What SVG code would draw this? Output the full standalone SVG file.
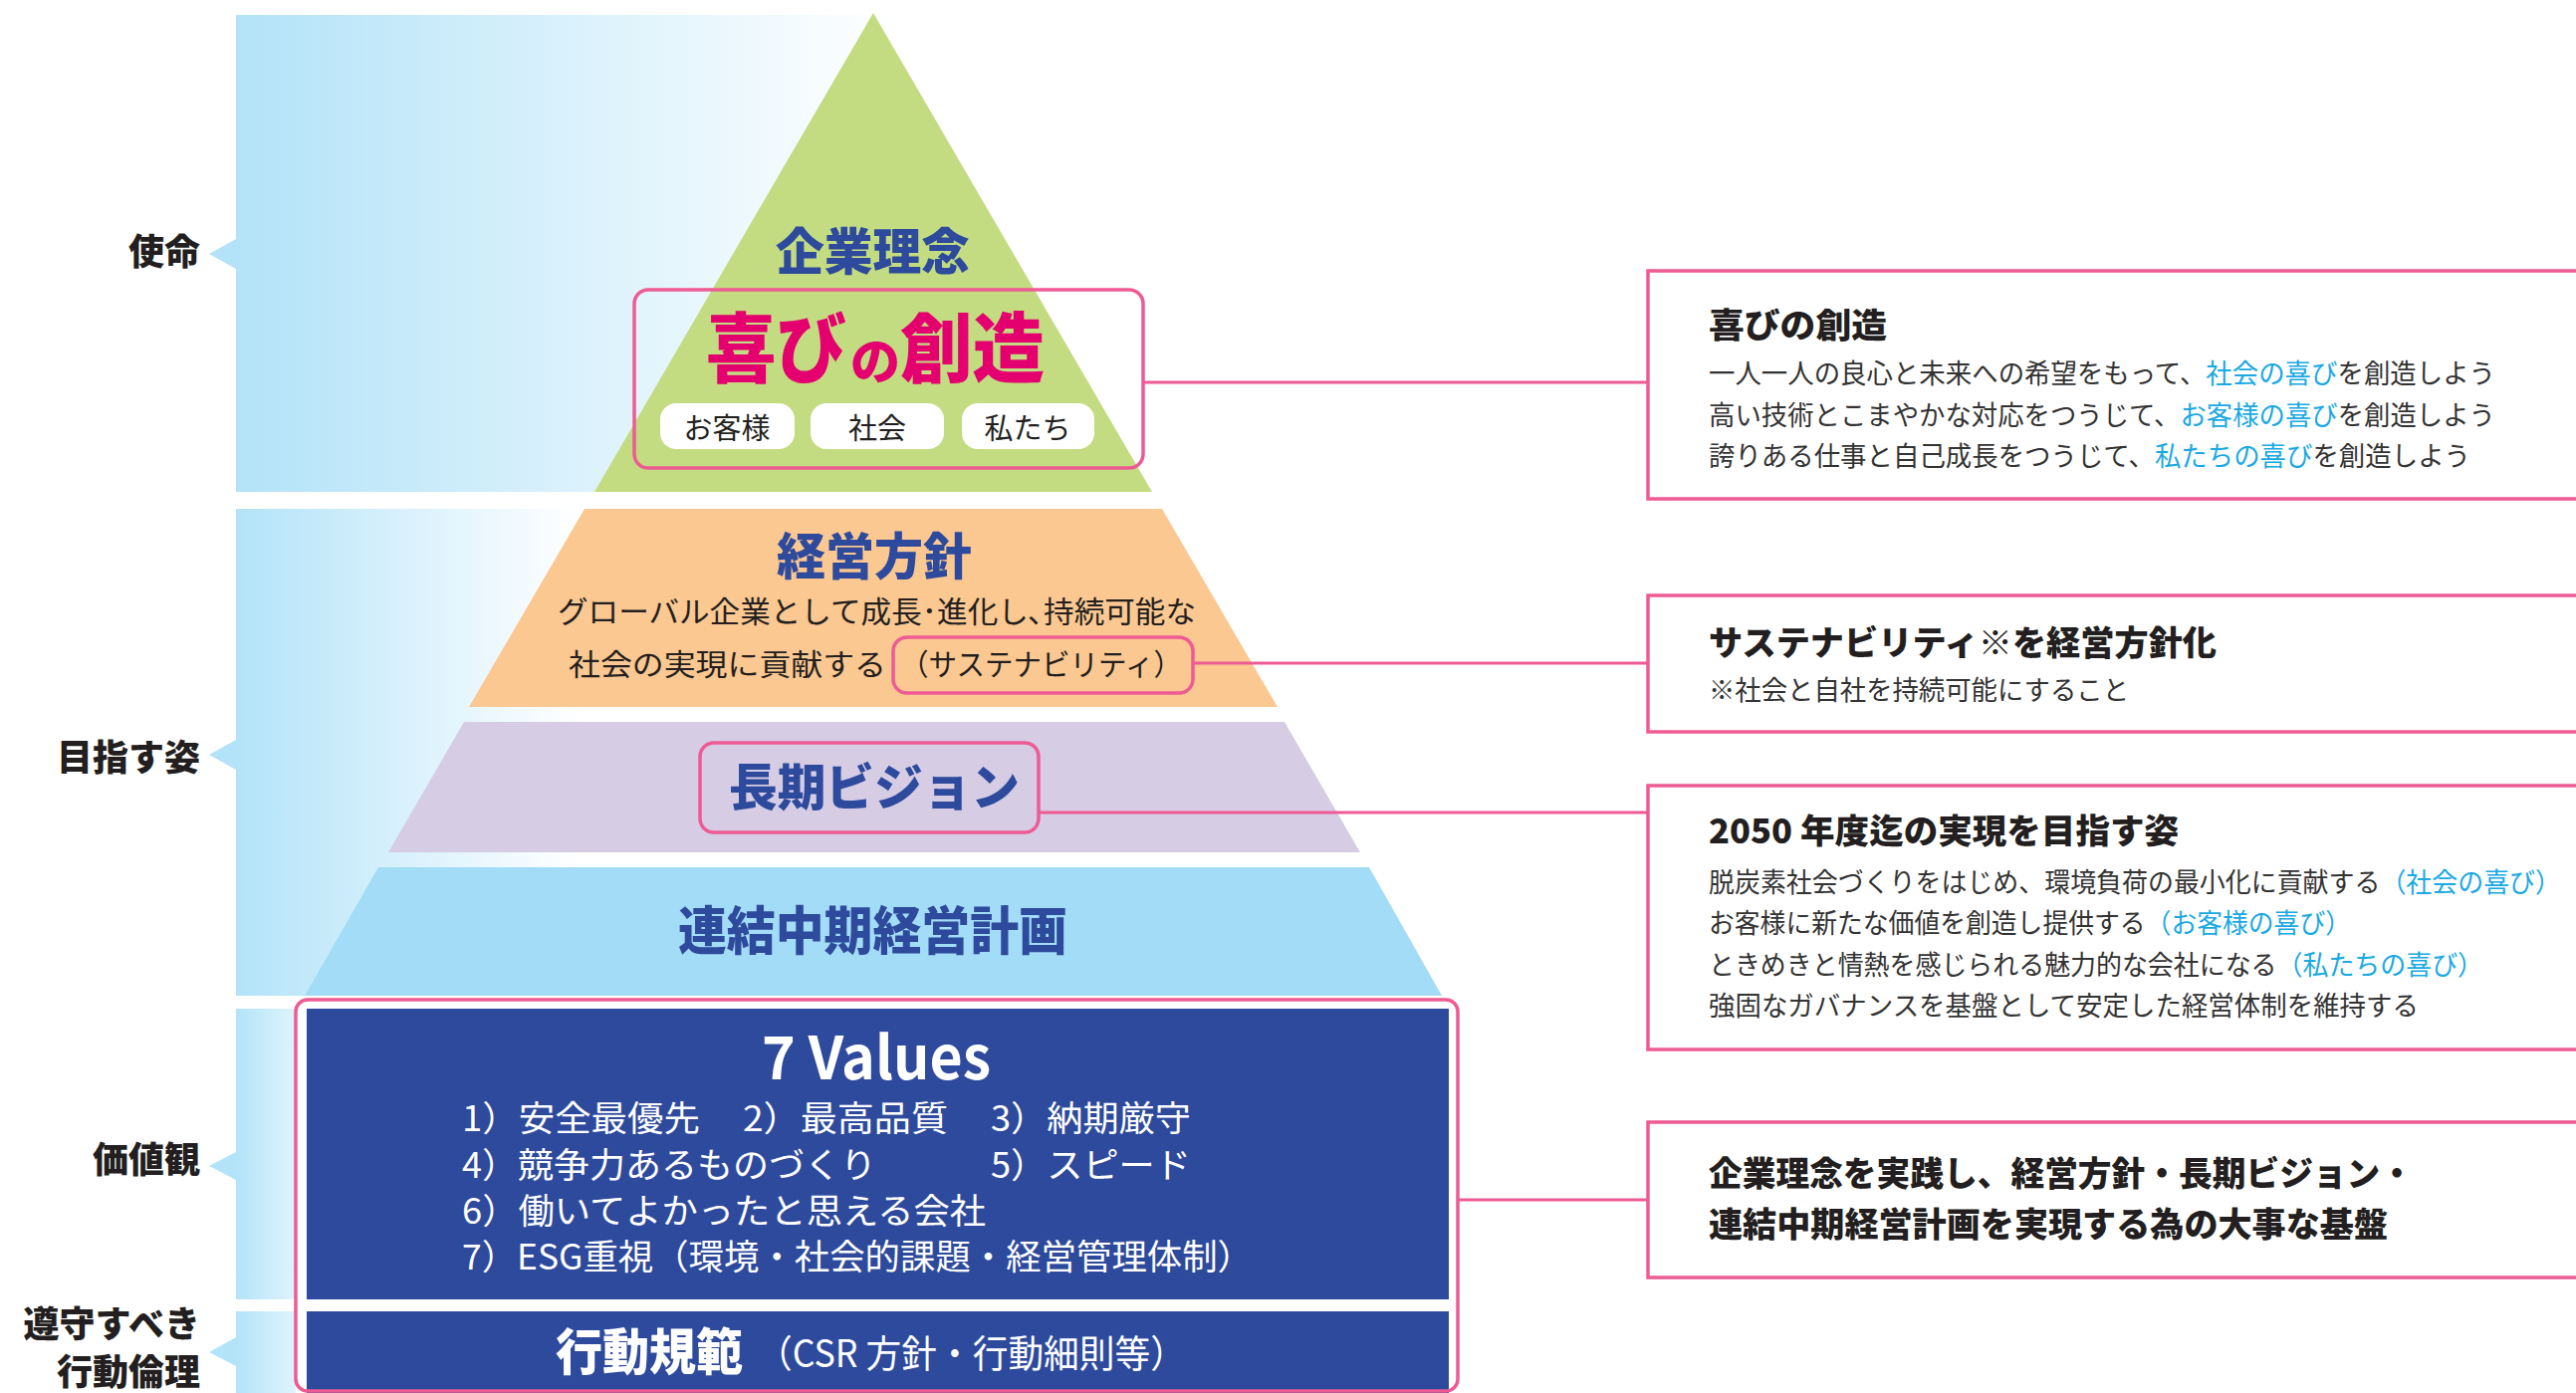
<svg xmlns="http://www.w3.org/2000/svg" width="2587" height="1399" viewBox="0 0 2587 1399">
<style>
text{font-family:"Noto Sans CJK JP","Noto Sans",sans-serif;dominant-baseline:central}
.lbl{font-size:36px;font-weight:900;fill:#231f20;text-anchor:end}
.navy{fill:#2e4a9c;font-weight:900}
.pk{fill:none;stroke:#ee5b94;stroke-width:3.5}
.con line{stroke:#ee5b94;stroke-width:3}
.body{font-size:27px;fill:#333}
.ttl{font-size:34px;font-weight:900;fill:#231f20}
.cy{fill:#1aa9e2}
.wt{fill:#fff;font-size:35px}
.notch{fill:#b3e3f8}
</style>
<defs>
<linearGradient id="g1" gradientUnits="userSpaceOnUse" x1="237" y1="0" x2="900" y2="0"><stop offset="0" stop-color="#b3e3f8"/><stop offset="1" stop-color="#ffffff"/></linearGradient>
<linearGradient id="g2" gradientUnits="userSpaceOnUse" x1="237" y1="0" x2="580" y2="0"><stop offset="0" stop-color="#b3e3f8"/><stop offset="1" stop-color="#ffffff"/></linearGradient>
<linearGradient id="g3" gradientUnits="userSpaceOnUse" x1="237" y1="0" x2="325" y2="0"><stop offset="0" stop-color="#b3e3f8"/><stop offset="1" stop-color="#f4fbfe"/></linearGradient>
</defs>

<g id="bands">
<rect x="237" y="15" width="663" height="479" fill="url(#g1)"/>
<rect x="237" y="511" width="360" height="489" fill="url(#g2)"/>
<rect x="237" y="1013" width="60" height="292" fill="url(#g3)"/>
<rect x="237" y="1317" width="60" height="82" fill="url(#g3)"/>
<polygon class="notch" points="210,255 237,240 237,270"/>
<polygon class="notch" points="210,758 237,743 237,773"/>
<polygon class="notch" points="210,1171 237,1157 237,1185"/>
<polygon class="notch" points="210,1358 237,1343 237,1372"/>
</g>

<g id="labels">
<text class="lbl" x="201" y="250">使命</text>
<text class="lbl" x="201" y="758">目指す姿</text>
<text class="lbl" x="201" y="1162">価値観</text>
<text class="lbl" x="201" y="1327">遵守すべき</text>
<text class="lbl" x="201" y="1375">行動倫理</text>
</g>

<g id="node-philosophy">
<polygon points="877,13 1157,494 597,494" fill="#c3dc82"/>
<text class="navy" x="779" y="249" font-size="50" textLength="195" lengthAdjust="spacingAndGlyphs">企業理念</text>
<rect class="pk" x="637" y="291" width="511" height="179" rx="14"/>
<text x="709" y="345" font-size="76" font-weight="900" fill="#e4006e" textLength="141" lengthAdjust="spacingAndGlyphs">喜び</text>
<text x="854" y="359" font-size="50" font-weight="900" fill="#e4006e" textLength="50" lengthAdjust="spacingAndGlyphs">の</text>
<text x="904" y="345" font-size="76" font-weight="900" fill="#e4006e" textLength="145" lengthAdjust="spacingAndGlyphs">創造</text>
<rect x="663" y="405" width="135" height="46" rx="16" fill="#fff"/>
<rect x="814" y="405" width="134" height="46" rx="16" fill="#fff"/>
<rect x="966" y="405" width="133" height="46" rx="16" fill="#fff"/>
<text x="730" y="428" font-size="29" fill="#231f20" text-anchor="middle">お客様</text>
<text x="881" y="428" font-size="29" fill="#231f20" text-anchor="middle">社会</text>
<text x="1032" y="428" font-size="29" fill="#231f20" text-anchor="middle">私たち</text>
</g>

<g id="node-policy">
<polygon points="587,511 1167,511 1283,710 471,710" fill="#fcc891"/>
<text class="navy" x="780" y="555" font-size="50" textLength="196" lengthAdjust="spacingAndGlyphs">経営方針</text>
<text x="560" y="612" font-size="30" fill="#231f20" textLength="641" lengthAdjust="spacingAndGlyphs">グローバル企業として成長･進化し､持続可能な</text>
<text x="571" y="665" font-size="30" fill="#231f20" textLength="319" lengthAdjust="spacingAndGlyphs">社会の実現に貢献する</text>
<text x="904" y="665" font-size="30" fill="#231f20" textLength="283" lengthAdjust="spacingAndGlyphs">（サステナビリティ）</text>
<rect class="pk" x="897" y="640" width="301" height="56" rx="14"/>
</g>

<g id="node-vision">
<polygon points="466,725 1290,725 1366,856 390,856" fill="#d6cde5"/>
<rect class="pk" x="703" y="746" width="340" height="90" rx="14"/>
<text class="navy" x="732" y="787" font-size="50" textLength="292" lengthAdjust="spacingAndGlyphs">長期ビジョン</text>
</g>

<g id="node-midterm">
<polygon points="380,871 1375,871 1448,1000 306,1000" fill="#a2dcf6"/>
<text class="navy" x="681" y="931" font-size="52" textLength="391" lengthAdjust="spacingAndGlyphs">連結中期経営計画</text>
</g>

<g id="node-values">
<rect x="308" y="1013" width="1147" height="292" fill="#2e4a9c"/>
<text x="765" y="1057" font-size="60" font-weight="700" fill="#fff" font-family="'Noto Sans',sans-serif" textLength="230" lengthAdjust="spacingAndGlyphs">7 Values</text>
<text class="wt" x="464" y="1120" textLength="239" lengthAdjust="spacingAndGlyphs">1）安全最優先</text>
<text class="wt" x="746" y="1120" textLength="206" lengthAdjust="spacingAndGlyphs">2）最高品質</text>
<text class="wt" x="995" y="1120" textLength="201" lengthAdjust="spacingAndGlyphs">3）納期厳守</text>
<text class="wt" x="464" y="1167" textLength="416" lengthAdjust="spacingAndGlyphs">4）競争力あるものづくり</text>
<text class="wt" x="995" y="1167" textLength="201" lengthAdjust="spacingAndGlyphs">5）スピード</text>
<text class="wt" x="464" y="1213" textLength="526" lengthAdjust="spacingAndGlyphs">6）働いてよかったと思える会社</text>
<text class="wt" x="464" y="1259" textLength="794" lengthAdjust="spacingAndGlyphs">7）ESG重視（環境・社会的課題・経営管理体制）</text>
</g>

<g id="node-conduct">
<rect x="308" y="1317" width="1147" height="82" fill="#2e4a9c"/>
<text x="558" y="1354" font-size="50" font-weight="900" fill="#fff" textLength="188" lengthAdjust="spacingAndGlyphs">行動規範</text>
<text x="760" y="1356" font-size="38" fill="#fff" textLength="431" lengthAdjust="spacingAndGlyphs">（CSR 方針・行動細則等）</text>
</g>
<rect id="values-frame" class="pk" x="297" y="1004" width="1167" height="393" rx="12"/>

<g id="connectors" class="con">
<line x1="1148" y1="384" x2="1655" y2="384"/>
<line x1="1198" y1="666" x2="1655" y2="666"/>
<line x1="1043" y1="816" x2="1655" y2="816"/>
<line x1="1464" y1="1205" x2="1655" y2="1205"/>
</g>

<g id="box-joy">
<rect class="pk" x="1655" y="272" width="1000" height="229"/>
<text class="ttl" x="1716" y="324" textLength="179" lengthAdjust="spacingAndGlyphs">喜びの創造</text>
<text class="body" x="1716" y="373" textLength="790" lengthAdjust="spacingAndGlyphs">一人一人の良心と未来への希望をもって、<tspan class="cy">社会の喜び</tspan>を創造しよう</text>
<text class="body" x="1716" y="415" textLength="790" lengthAdjust="spacingAndGlyphs">高い技術とこまやかな対応をつうじて、<tspan class="cy">お客様の喜び</tspan>を創造しよう</text>
<text class="body" x="1716" y="456" textLength="765" lengthAdjust="spacingAndGlyphs">誇りある仕事と自己成長をつうじて、<tspan class="cy">私たちの喜び</tspan>を創造しよう</text>
</g>

<g id="box-sustain">
<rect class="pk" x="1655" y="598" width="1000" height="137"/>
<text class="ttl" x="1716" y="643" textLength="510" lengthAdjust="spacingAndGlyphs">サステナビリティ※を経営方針化</text>
<text class="body" x="1716" y="691" textLength="422" lengthAdjust="spacingAndGlyphs">※社会と自社を持続可能にすること</text>
</g>

<g id="box-2050">
<rect class="pk" x="1655" y="789" width="1000" height="265"/>
<text class="ttl" x="1716" y="832" textLength="472" lengthAdjust="spacingAndGlyphs">2050 年度迄の実現を目指す姿</text>
<text class="body" x="1716" y="884" textLength="856" lengthAdjust="spacingAndGlyphs">脱炭素社会づくりをはじめ、環境負荷の最小化に貢献する<tspan class="cy">（社会の喜び）</tspan></text>
<text class="body" x="1716" y="925" textLength="645" lengthAdjust="spacingAndGlyphs">お客様に新たな価値を創造し提供する<tspan class="cy">（お客様の喜び）</tspan></text>
<text class="body" x="1716" y="967" textLength="778" lengthAdjust="spacingAndGlyphs">ときめきと情熱を感じられる魅力的な会社になる<tspan class="cy">（私たちの喜び）</tspan></text>
<text class="body" x="1716" y="1008" textLength="713" lengthAdjust="spacingAndGlyphs">強固なガバナンスを基盤として安定した経営体制を維持する</text>
</g>

<g id="box-foundation">
<rect class="pk" x="1655" y="1127" width="1000" height="156"/>
<text class="ttl" x="1716" y="1176" textLength="708" lengthAdjust="spacingAndGlyphs">企業理念を実践し、経営方針・長期ビジョン・</text>
<text class="ttl" x="1716" y="1227" textLength="682" lengthAdjust="spacingAndGlyphs">連結中期経営計画を実現する為の大事な基盤</text>
</g>
</svg>
